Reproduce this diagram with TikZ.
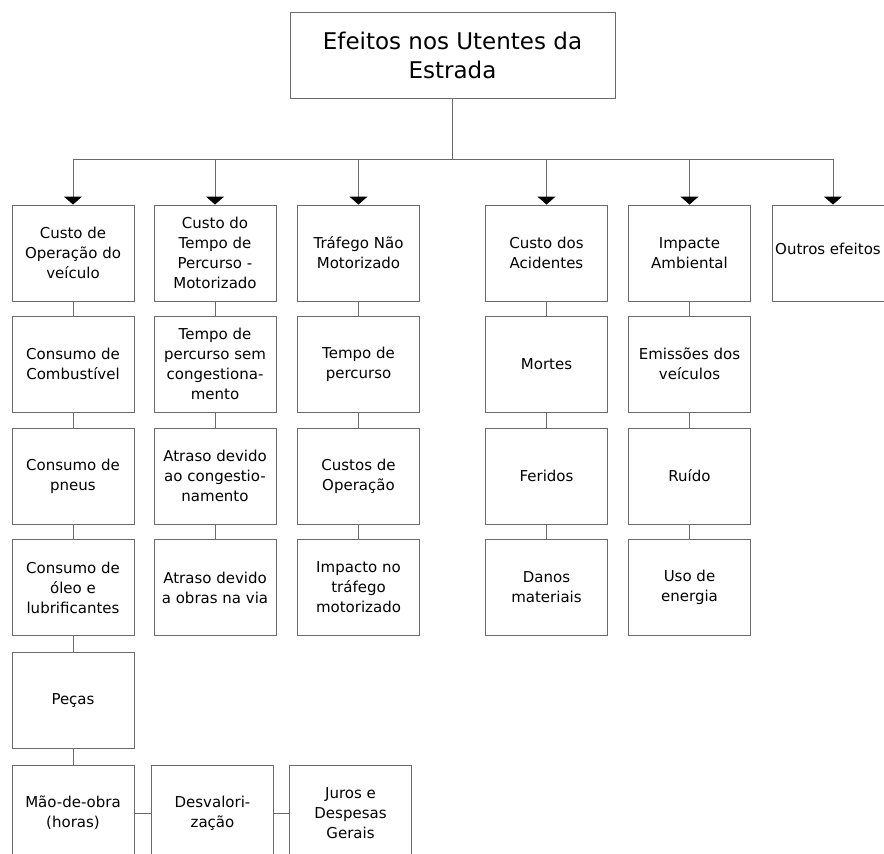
\documentclass[tikz,border=0pt]{standalone}
\usepackage{fontspec}
\setmainfont{DejaVu Sans}
\usetikzlibrary{arrows.meta}
\definecolor{boxline}{HTML}{6A6A6A}
\begin{document}
\begin{tikzpicture}[x=1pt,y=-1pt,
  box/.style={draw=boxline,line width=0.9pt,minimum width=122pt,minimum height=96pt,inner sep=0pt,align=center,font=\fontsize{15}{20}\selectfont},
  boxtext/.style={inner sep=0pt,align=left,font=\fontsize{15}{20}\selectfont},
  titlebox/.style={draw=boxline,line width=0.9pt,minimum width=325pt,minimum height=86pt,inner sep=0pt,align=center,font=\fontsize{23}{29}\selectfont},
  conn/.style={draw=boxline,line width=0.9pt},
  arr/.style={draw=boxline,line width=0.9pt,-{Triangle[width=18pt,length=8pt,black]}}]
\useasboundingbox (0,0) rectangle (884,854);
\clip (0,0) rectangle (884,854);
\node[titlebox] (t) at (452.5,55) {Efeitos nos Utentes da\\Estrada};
\coordinate (busL) at (73,159);
\coordinate (busR) at (833,159);
% row 1
\node[box] (a1) at (73,253) {Custo de\\Operação do\\veículo};
\node[box] (b1) at (215,253) {Custo do\\Tempo de\\Percurso -\\Motorizado};
\node[box] (c1) at (358.5,253) {Tráfego Não\\Motorizado};
\node[box] (d1) at (546.5,253) {Custo dos\\Acidentes};
\node[box] (e1) at (689.5,253) {Impacte\\Ambiental};
\node[box] (f1) at (833,253) {};
\node[boxtext,anchor=west] (f1t) at (775,249) {Outros efeitos};
% row 2
\node[box] (a2) at (73,364) {Consumo de\\Combustível};
\node[box] (b2) at (215,364) {Tempo de\\percurso sem\\congestiona-\\mento};
\node[box] (c2) at (358.5,364) {Tempo de\\percurso};
\node[box] (d2) at (546.5,364) {Mortes};
\node[box] (e2) at (689.5,364) {Emissões dos\\veículos};
% row 3
\node[box] (a3) at (73,476) {Consumo de\\pneus};
\node[box] (b3) at (215,476) {Atraso devido\\ao congestio-\\namento};
\node[box] (c3) at (358.5,476) {Custos de\\Operação};
\node[box] (d3) at (546.5,476) {Feridos};
\node[box] (e3) at (689.5,476) {Ruído};
% row 4
\node[box] (a4) at (73,587.5) {Consumo de\\óleo e\\lubrificantes};
\node[box] (b4) at (215,587.5) {Atraso devido\\a obras na via};
\node[box] (c4) at (358.5,587.5) {Impacto no\\tráfego\\motorizado};
\node[box] (d4) at (546.5,587.5) {Danos\\materiais};
\node[box] (e4) at (689.5,587.5) {Uso de\\energia};
% row 5
\node[box] (a5) at (73,700.5) {Peças};
% row 6
\node[box] (a6) at (73,813) {Mão-de-obra\\(horas)};
\node[box] (b6) at (212.5,813) {Desvalori-\\zação};
\node[box] (c6) at (350.5,813) {Juros e\\Despesas\\Gerais};
% connectors
\draw[conn] (t.south) -- (t.south |- busL);
\draw[conn] (busL) -- (busR);
\foreach \n in {a1,b1,c1,d1,e1,f1}{
  \draw[arr] (\n.north |- busL) -- (\n.north);
}
\draw[conn] (a1) -- (a2) (a2) -- (a3) (a3) -- (a4) (a4) -- (a5) (a5) -- (a6);
\draw[conn] (b1) -- (b2) (b2) -- (b3) (b3) -- (b4);
\draw[conn] (c1) -- (c2) (c2) -- (c3) (c3) -- (c4);
\draw[conn] (d1) -- (d2) (d2) -- (d3) (d3) -- (d4);
\draw[conn] (e1) -- (e2) (e2) -- (e3) (e3) -- (e4);
\draw[conn] (a6) -- (b6) (b6) -- (c6);
\end{tikzpicture}
\end{document}
